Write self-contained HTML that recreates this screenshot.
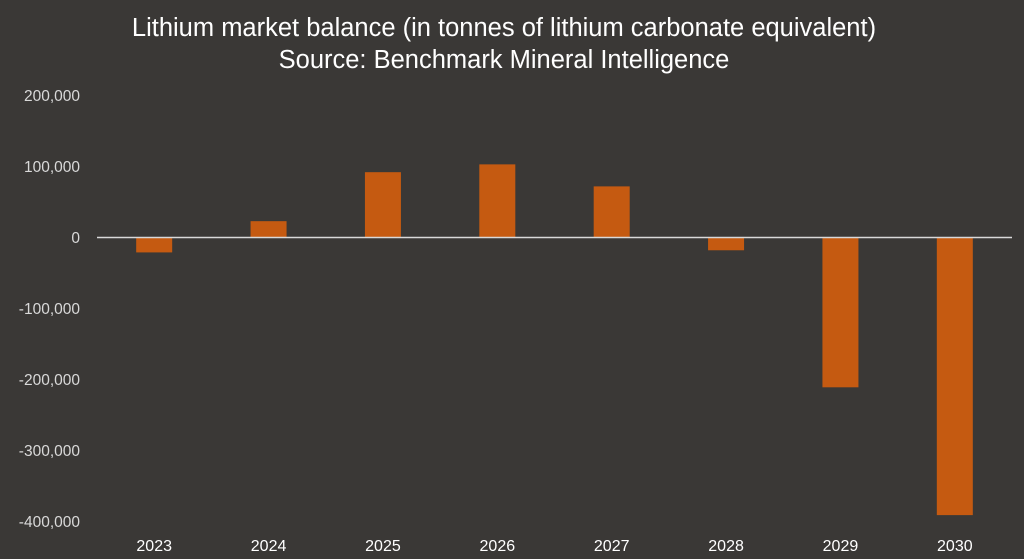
<!DOCTYPE html>
<html><head><meta charset="utf-8"><style>
html,body{margin:0;padding:0;background:#3a3836;}
svg{display:block;font-family:"Liberation Sans",sans-serif;}
</style></head><body>
<svg id="chart" width="1024" height="559" viewBox="0 0 1024 559">
<rect width="1024" height="559" fill="#3a3836"/>
<text x="504" y="36" fill="#ffffff" font-size="25.5" text-anchor="middle">Lithium market balance (in tonnes of lithium carbonate equivalent)</text>
<text x="504" y="68" fill="#ffffff" font-size="25.5" text-anchor="middle">Source: Benchmark Mineral Intelligence</text>
<g id="yaxis"></g>
<g id="bars"></g>
<g id="xaxis"></g>
</svg>
<script>
const categories = ["2023","2024","2025","2026","2027","2028","2029","2030"];
const values = [-21000, 23000, 92000, 103000, 72000, -18000, -211000, -391000];
const yTicks = [200000, 100000, 0, -100000, -200000, -300000, -400000];
const yTickLabels = ["200,000","100,000","0","-100,000","-200,000","-300,000","-400,000"];

const NS = "http://www.w3.org/2000/svg";
const plotLeft = 97, plotRight = 1012;
const y = v => 237.5 - v * (142 / 200000);
const bandW = (plotRight - plotLeft) / categories.length;
const x = i => plotLeft + bandW * (i + 0.5);
const barW = 36;
function mk(tag, attrs, parent){const e=document.createElementNS(NS,tag);for(const k in attrs)e.setAttribute(k,attrs[k]);parent.appendChild(e);return e;}

const ya = document.getElementById('yaxis');
yTicks.forEach((t,i)=>{
  const tx = mk('text',{x:80,y:y(t)+5.5,fill:'#d9d9d9','font-size':15.5,'text-anchor':'end'},ya);
  
  
  tx.textContent = yTickLabels[i];
});

const bg = document.getElementById('bars');
values.forEach((v,i)=>{
  const top = Math.min(y(v), y(0)), h = Math.abs(y(v) - y(0));
  const r = mk('rect',{x:x(i)-barW/2,y:top,width:barW,height:h,fill:'#c55a11'},bg);
  
  
});

const xa = document.getElementById('xaxis');
const zl = mk('line',{x1:plotLeft,x2:plotRight,y1:y(0),y2:y(0),stroke:'#d9d9d9','stroke-width':1.5},xa);


categories.forEach((c,i)=>{
  const tx = mk('text',{x:x(i),y:551,fill:'#ffffff','font-size':16,'text-anchor':'middle'},xa);
  
  
  tx.textContent = c;
});
</script>
</body></html>
